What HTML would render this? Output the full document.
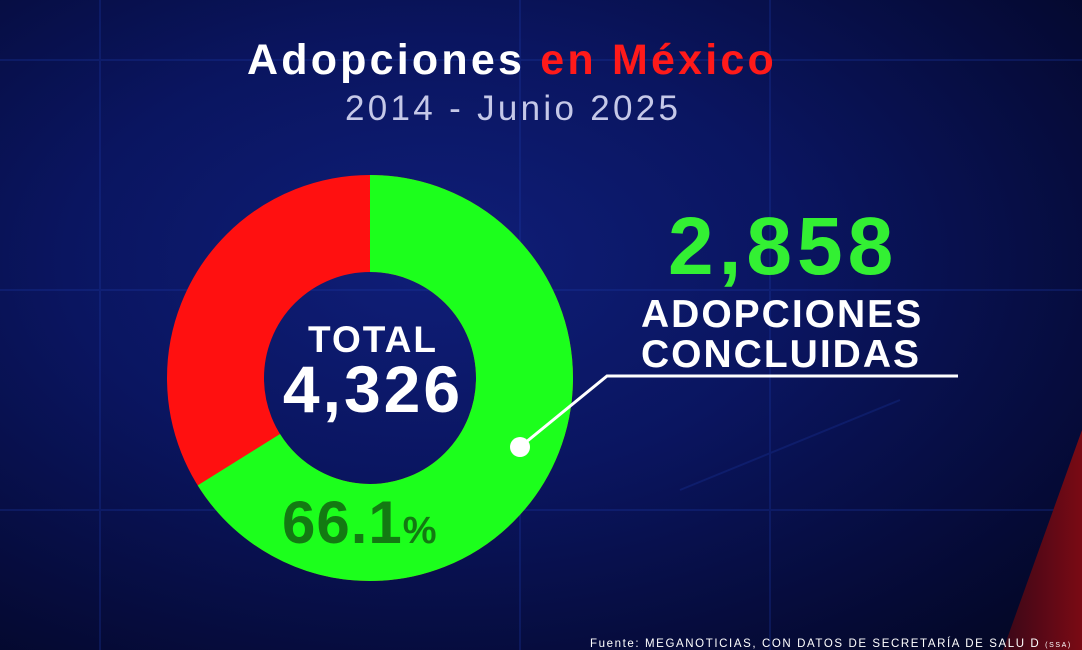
<!DOCTYPE html>
<html><head><meta charset="utf-8"><style>
html,body{margin:0;padding:0}
body{width:1082px;height:650px;overflow:hidden;position:relative;background:radial-gradient(ellipse at 40% 40%,#0f1e78 0%,#0a1560 40%,#050a35 80%,#03061f 100%);font-family:"Liberation Sans","DejaVu Sans",sans-serif}
svg{position:absolute;left:0;top:0}
</style></head><body>
<svg width="1082" height="650" viewBox="0 0 1082 650">
<defs><linearGradient id="rd" x1="0" y1="0" x2="1" y2="0"><stop offset="0" stop-color="#3a0718"/><stop offset="1" stop-color="#7a0a14"/></linearGradient></defs>
<g stroke="#1d3aa8" stroke-width="2" opacity="0.28">
<line x1="100" y1="0" x2="100" y2="650"/><line x1="520" y1="0" x2="520" y2="650"/><line x1="770" y1="0" x2="770" y2="650"/>
<line x1="0" y1="290" x2="1082" y2="290"/><line x1="0" y1="510" x2="1082" y2="510"/><line x1="0" y1="60" x2="1082" y2="60"/>
<line x1="680" y1="490" x2="900" y2="400"/>
</g>
<polygon points="1082,430 1082,650 1003,650" fill="url(#rd)"/>
<text x="247" y="74" font-size="43" font-weight="bold" fill="#fff" letter-spacing="3.2">Adopciones <tspan fill="#ff1a1a">en México</tspan></text>
<text x="345" y="120" font-size="35" fill="#c5c8e8" letter-spacing="3.3">2014 - Junio 2025</text>
<circle cx="370" cy="378" r="154.5" fill="none" stroke="#ff1010" stroke-width="97"/>
<circle cx="370" cy="378" r="154.5" fill="none" stroke="#1cff1c" stroke-width="97" stroke-dasharray="641.7 2000" transform="rotate(-90 370 378)"/>
<text x="373" y="352" font-size="37" font-weight="bold" fill="#fff" text-anchor="middle" letter-spacing="2">TOTAL</text>
<text x="373" y="412" font-size="66" font-weight="bold" fill="#fff" text-anchor="middle" letter-spacing="3">4,326</text>
<text x="282" y="543" font-size="60" font-weight="bold" fill="#137a12" letter-spacing="1">66.1<tspan font-size="38">%</tspan></text>
<text x="668" y="274" font-size="82" font-weight="bold" fill="#33f033" letter-spacing="5">2,858</text>
<text x="641" y="327" font-size="39" font-weight="bold" fill="#fff" letter-spacing="2">ADOPCIONES</text>
<text x="641" y="367" font-size="39" font-weight="bold" fill="#fff" letter-spacing="2">CONCLUIDAS</text>
<polyline points="958,376 607,376 520,447" fill="none" stroke="#fff" stroke-width="3"/>
<circle cx="520" cy="447" r="10" fill="#fff"/>
<text x="590" y="647" font-size="11.5" fill="#fff" letter-spacing="1.6">Fuente: MEGANOTICIAS, CON DATOS DE SECRETARÍA DE SALU D <tspan font-size="7">(SSA)</tspan></text>
</svg>
</body></html>
